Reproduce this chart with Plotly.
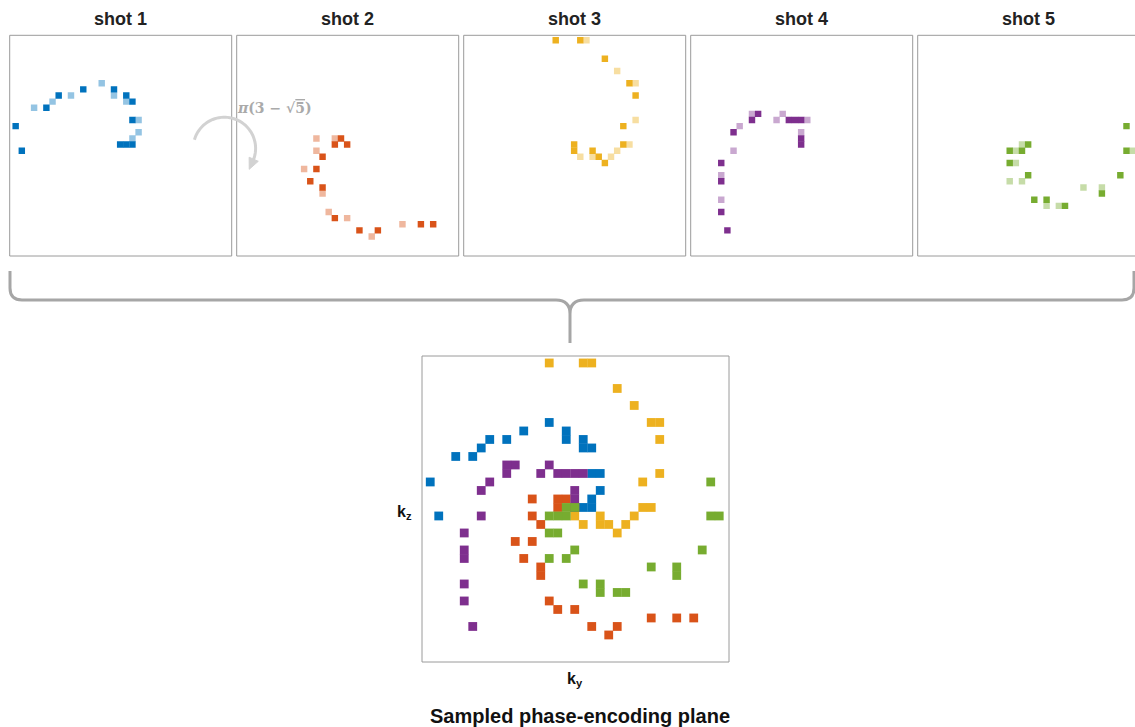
import math
import plotly.graph_objects as go

W, H = 1135, 727

shot_labels = ["shot 1", "shot 2", "shot 3", "shot 4", "shot 5"]
shot_colors = ["#0072BD", "#D95319", "#EDB120", "#7E2F8E", "#77AC30"]

# [ky, kz] grid indices of sampled points, per shot (dark = first half, light = second half)
shot1_dark = [[0, 14], [1, 18], [5, 11], [7, 9], [11, 8], [16, 8], [18, 9], [19, 10], [19, 13], [17, 17], [18, 17], [19, 17]]
shot1_light = [[3, 11], [6, 10], [9, 9], [14, 7], [16, 9], [18, 10], [20, 13], [20, 15], [19, 16]]
shot2_dark = [[16, 16], [15, 17], [17, 17], [13, 19], [12, 21], [11, 23], [13, 24], [15, 29], [19, 31], [22, 31], [29, 30], [31, 30]]
shot2_light = [[12, 16], [15, 16], [12, 18], [10, 21], [13, 25], [14, 28], [17, 29], [21, 32], [26, 30]]
shot3_dark = [[14, 0], [18, 0], [22, 3], [26, 7], [27, 9], [25, 14], [25, 17], [17, 17], [17, 18], [20, 18], [21, 19], [22, 20]]
shot3_light = [[19, 0], [24, 5], [27, 7], [27, 13], [26, 17], [18, 19], [20, 19], [23, 19], [24, 18]]
shot4_dark = [[10, 12], [9, 13], [15, 13], [16, 13], [17, 13], [17, 16], [17, 17], [6, 15], [4, 20], [4, 23], [4, 28], [5, 31]]
shot4_light = [[9, 12], [13, 13], [14, 12], [18, 13], [17, 15], [7, 14], [6, 18], [4, 22], [4, 26]]
shot5_dark = [[33, 14], [33, 18], [32, 22], [29, 25], [23, 27], [20, 26], [18, 26], [17, 22], [14, 20], [14, 18], [16, 18], [17, 17]]
shot5_light = [[34, 18], [29, 24], [26, 24], [22, 27], [20, 27], [14, 23], [16, 23], [15, 20], [15, 18], [16, 17]]

darks = [shot1_dark, shot2_dark, shot3_dark, shot4_dark, shot5_dark]
lights = [shot1_light, shot2_light, shot3_light, shot4_light, shot5_light]

XR = [-0.97, 35.15]
YR = [35.18, -0.82]


def px(x):
    return x / W


def py(y):
    return 1 - y / H


fig = go.Figure()
layout_axes = {}

# small panels
small_w, small_top, small_bot = 222.0, 35.3, 256.0
small_cell = small_w / (XR[1] - XR[0])
for i in range(5):
    x0 = 9.7 + 227 * i
    x1 = x0 + small_w
    xr = list(XR)
    if x1 > W:
        xr = [XR[0], XR[0] + (W - x0) / small_cell]
        x1 = W
    ax = i + 1
    xa = "x" if ax == 1 else f"x{ax}"
    ya = "y" if ax == 1 else f"y{ax}"
    layout_axes["xaxis" if ax == 1 else f"xaxis{ax}"] = dict(
        domain=[px(x0), px(x1)], range=xr, visible=False, anchor=ya, fixedrange=True)
    layout_axes["yaxis" if ax == 1 else f"yaxis{ax}"] = dict(
        domain=[py(small_bot), py(small_top)], range=YR, visible=False, anchor=xa, fixedrange=True)
    for pts, op in ((lights[i], 0.42), (darks[i], 1.0)):
        fig.add_trace(go.Scatter(
            x=[p[0] for p in pts], y=[p[1] for p in pts], mode="markers",
            marker=dict(symbol="square", size=small_cell + 0.3, color=shot_colors[i],
                        opacity=op, line=dict(width=0)),
            xaxis=xa, yaxis=ya, showlegend=False, hoverinfo="skip"))

# big panel
bx0, bx1, by0, by1 = 422.0, 729.0, 356.0, 662.0
big_cell = (bx1 - bx0) / (XR[1] - XR[0])
layout_axes["xaxis6"] = dict(domain=[px(bx0), px(bx1)], range=XR, visible=False, anchor="y6", fixedrange=True)
layout_axes["yaxis6"] = dict(domain=[py(by1), py(by0)], range=YR, visible=False, anchor="x6", fixedrange=True)
for i in range(5):
    pts = darks[i] + lights[i]
    fig.add_trace(go.Scatter(
        x=[p[0] for p in pts], y=[p[1] for p in pts], mode="markers",
        marker=dict(symbol="square", size=big_cell + 0.3, color=shot_colors[i], line=dict(width=0)),
        xaxis="x6", yaxis="y6", showlegend=False, hoverinfo="skip"))

shapes = []
border = "#9a9a9a"
for i in range(5):
    x0 = 9.7 + 227 * i
    shapes.append(dict(type="rect", xref="paper", yref="paper",
                       x0=px(x0), x1=px(x0 + small_w), y0=py(small_bot), y1=py(small_top),
                       line=dict(color=border, width=1)))
shapes.append(dict(type="rect", xref="paper", yref="paper",
                   x0=px(bx0), x1=px(bx1), y0=py(by1), y1=py(by0),
                   line=dict(color=border, width=1)))


def path(cmds):
    out = []
    for c in cmds:
        if isinstance(c, str):
            out.append(c)
        else:
            out.append(f"{px(c[0]):.5f},{py(c[1]):.5f}")
    return " ".join(out)


# curly bracket
br = path(["M", (10, 271), "L", (10, 288), "Q", (10, 300), (22, 300), "L", (556, 300),
           "Q", (570, 300), (570, 314), "L", (570, 343),
           "M", (584, 300), "Q", (570, 300), (570, 314),
           "M", (584, 300), "L", (1122, 300), "Q", (1134, 300), (1134, 288), "L", (1134, 271)])
shapes.append(dict(type="path", xref="paper", yref="paper", path=br,
                   line=dict(color="#a6a6a6", width=3)))

# rotation arrow (arc + head)
cx, cy, r = 224.4, 148.4, 31.2
angs = [math.radians(a) for a in range(196, 385, 4)]
arc = []
for k, a in enumerate(angs):
    arc.append("M" if k == 0 else "L")
    arc.append((cx + r * math.cos(a), cy + r * math.sin(a)))
shapes.append(dict(type="path", xref="paper", yref="paper", path=path(arc),
                   line=dict(color="#d2d2d2", width=3)))
ae = angs[-1]
ex, ey = cx + r * math.cos(ae), cy + r * math.sin(ae)
dx, dy = -math.sin(ae), math.cos(ae)
nx, ny = -dy, dx
tip = (ex + 9 * dx, ey + 9 * dy)
b1 = (ex - 2 * dx + 5 * nx, ey - 2 * dy + 5 * ny)
b2 = (ex - 2 * dx - 5 * nx, ey - 2 * dy - 5 * ny)
shapes.append(dict(type="path", xref="paper", yref="paper",
                   path=path(["M", tip, "L", b1, "L", b2, "Z"]),
                   fillcolor="#d2d2d2", line=dict(color="#d2d2d2", width=1)))

annotations = []
for i in range(5):
    cxs = 9.7 + 227 * i + small_w / 2
    annotations.append(dict(text=f"<b>{shot_labels[i]}</b>", x=px(cxs), y=py(19), xref="paper", yref="paper",
                            xanchor="center", yanchor="middle", showarrow=False,
                            font=dict(family="Liberation Sans, Arial", size=18, color="#222222")))
annotations.append(dict(text="<b><i>π</i>(3 − √<span style='text-decoration:overline'>5</span>)</b>",
                        x=px(235), y=py(108), xref="paper", yref="paper", xanchor="left", yanchor="middle",
                        showarrow=False, font=dict(family="DejaVu Serif", size=14, color="#aaaaaa")))
annotations.append(dict(text="<b>k<sub>z</sub></b>", x=px(404), y=py(512), xref="paper", yref="paper",
                        xanchor="center", yanchor="middle", showarrow=False,
                        font=dict(family="Liberation Sans, Arial", size=16, color="#111111")))
annotations.append(dict(text="<b>k<sub>y</sub></b>", x=px(575), y=py(679), xref="paper", yref="paper",
                        xanchor="center", yanchor="middle", showarrow=False,
                        font=dict(family="Liberation Sans, Arial", size=16, color="#111111")))
annotations.append(dict(text="<b>Sampled phase-encoding plane</b>", x=px(580), y=py(716), xref="paper", yref="paper",
                        xanchor="center", yanchor="middle", showarrow=False,
                        font=dict(family="Liberation Sans, Arial", size=20, color="#111111")))

fig.update_layout(width=W, height=H, margin=dict(l=0, r=0, t=0, b=0),
                  paper_bgcolor="white", plot_bgcolor="white",
                  shapes=shapes, annotations=annotations, **layout_axes)

fig.write_html("out.html", include_plotlyjs=True, config={"displayModeBar": False})
